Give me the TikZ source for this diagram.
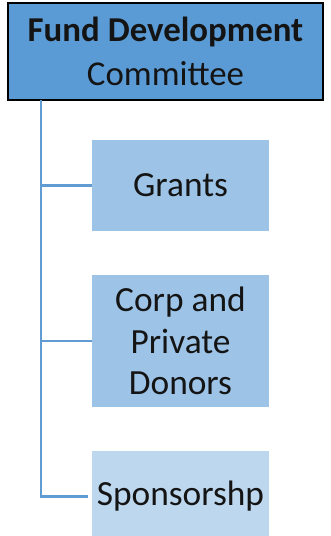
\documentclass[tikz,border=0pt]{standalone}
\usepackage{fontspec}
\setmainfont{Carlito}
\usepackage{tikz}
\usetikzlibrary{positioning}

\definecolor{headblue}{RGB}{91,155,213}
\definecolor{midblue}{RGB}{157,195,230}
\definecolor{paleblue}{RGB}{189,215,238}
\definecolor{linkblue}{RGB}{96,155,210}
\definecolor{inkgrey}{RGB}{20,20,20}

\begin{document}
\begin{tikzpicture}[x=1bp,y=1bp,outer sep=0pt,
    head/.style={draw=black,line width=2.4bp,fill=headblue,text=inkgrey,
      minimum width=315bp,minimum height=97bp,align=center,
      font=\fontsize{35}{44}\selectfont},
    sub/.style={fill=#1,text=inkgrey,minimum width=177bp,align=center,
      font=\fontsize{35.5}{42}\selectfont},
    link/.style={draw=linkblue,line width=2.8bp,shorten >=4bp}]
  \useasboundingbox (0,0) rectangle (330,-536);
  \clip (0,0) rectangle (330,-536);

  \node[head]  (fund) at (165.5,-51.5) {\textbf{Fund Development}\\Committee};
  \node[sub=midblue,minimum height=91bp]  (grants) [below right=40bp and 84bp of fund.south west] {Grants};
  \node[sub=midblue,minimum height=132bp] (donors) [below=44bp of grants] {Corp and\\Private\\Donors};
  \node[sub=paleblue,minimum height=91bp] (sponsor) [below=44bp of donors] {Sponsorshp};

  \coordinate (trunk) at ([xshift=33bp]fund.south west);

  \path[link] (trunk) |- (grants.west)
              (trunk) |- (donors.west)
              (trunk) |- (sponsor.west);
\end{tikzpicture}
\end{document}
